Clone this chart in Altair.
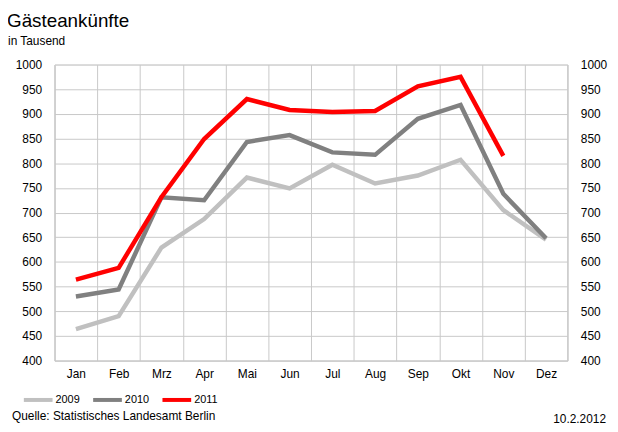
import altair as alt
import pandas as pd

months = ["Jan", "Feb", "Mrz", "Apr", "Mai", "Jun", "Jul", "Aug", "Sep", "Okt", "Nov", "Dez"]
v2009 = [464, 490, 629, 687, 771, 749, 797, 759, 775, 807, 705, 645]
v2010 = [530, 544, 731, 725, 843, 857, 822, 817, 890, 918, 738, 648]
v2011 = [564, 588, 731, 849, 930, 908, 904, 906, 956, 975, 815, None]
years = ["2009", "2010", "2011"]
colors = ["#c0c0c0", "#808080", "#ff0000"]
y_ticks = list(range(400, 1001, 50))

rows = []
for yr, vals in zip(years, [v2009, v2010, v2011]):
    for m, v in zip(months, vals):
        if v is not None:
            rows.append({"Monat": m, "Jahr": yr, "Wert": v})
df = pd.DataFrame(rows)

FONT = "Liberation Sans"
GRID = "#c8c8c8"

x_enc = alt.X("Monat:N", sort=months, title=None,
              scale=alt.Scale(paddingInner=0, paddingOuter=0),
              axis=alt.Axis(grid=True, tickBand="extent", ticks=False, labelAngle=0,
                            labelPadding=8, labelFontSize=12, labelFont=FONT,
                            labelColor="#000", domainColor=GRID, gridColor=GRID))
y_scale = alt.Scale(domain=[400, 1000], nice=False, zero=False)

color = alt.Color("Jahr:N", scale=alt.Scale(domain=years, range=colors),
                  legend=alt.Legend(orient="none", legendX=-33, legendY=322,
                                    direction="horizontal", title=None,
                                    symbolType="stroke", symbolSize=841,
                                    symbolStrokeWidth=4, labelFontSize=11,
                                    labelFont=FONT, labelColor="#000",
                                    labelOffset=1, columnPadding=5))

base = alt.Chart(df)
lines = base.mark_line(strokeWidth=4.5, strokeJoin="miter").encode(
    x=x_enc,
    y=alt.Y("Wert:Q", scale=y_scale, title=None,
            axis=alt.Axis(values=y_ticks, format="d", ticks=False,
                          labelPadding=13, labelFontSize=12, labelFont=FONT,
                          labelColor="#000", domainColor=GRID, gridColor=GRID)),
    color=color,
)
right = base.mark_line(opacity=0).encode(
    x=x_enc,
    y=alt.Y("Wert:Q", scale=y_scale, title=None,
            axis=alt.Axis(orient="right", grid=False, values=y_ticks, format="d",
                          ticks=False, labelPadding=13, labelFontSize=12,
                          labelFont=FONT, labelColor="#000", domainColor=GRID)),
    color=color,
)

title = alt.Chart(pd.DataFrame({"t": ["Gästeankünfte"]})).mark_text(
    align="left", baseline="middle", fontSize=19, font=FONT, color="#000"
).encode(text="t:N", x=alt.value(-48), y=alt.value(-44))
sub = alt.Chart(pd.DataFrame({"t": ["in Tausend"]})).mark_text(
    align="left", baseline="middle", fontSize=12, font=FONT, color="#000"
).encode(text="t:N", x=alt.value(-47), y=alt.value(-24))
src = alt.Chart(pd.DataFrame({"t": ["Quelle: Statistisches Landesamt Berlin"]})).mark_text(
    align="left", baseline="middle", fontSize=12, font=FONT, color="#000"
).encode(text="t:N", x=alt.value(-43), y=alt.value(355))
date = alt.Chart(pd.DataFrame({"t": ["10.2.2012"]})).mark_text(
    align="right", baseline="middle", fontSize=12, font=FONT, color="#000"
).encode(text="t:N", x=alt.value(557), y=alt.value(358))

chart = alt.layer(lines, right, title, sub, src, date).resolve_axis(y="independent").properties(
    width=518, height=299,
    autosize=alt.AutoSizeParams(type="none"),
    padding={"left": 47, "top": 55, "right": 43, "bottom": 68},
).configure_view(stroke=None).configure(background="white")

chart.save("out.html", embed_options={"renderer": "svg", "actions": False})
